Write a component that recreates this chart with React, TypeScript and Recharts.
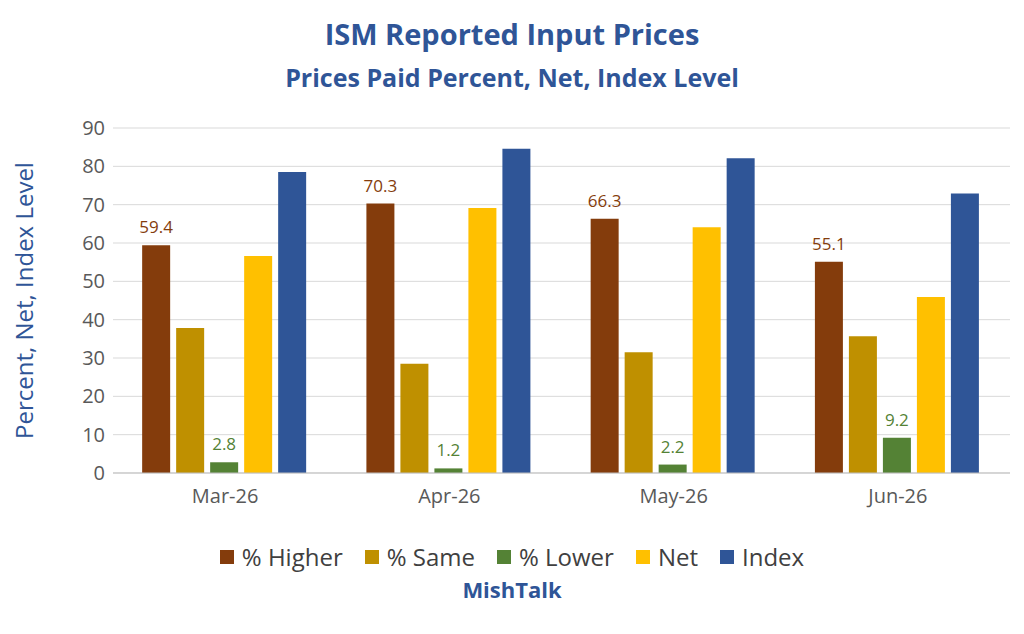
import React from 'react';
import { BarChart, Bar, XAxis, YAxis, CartesianGrid, LabelList } from 'recharts';

const months = ['Mar-26', 'Apr-26', 'May-26', 'Jun-26'];
const higher = [59.4, 70.3, 66.3, 55.1];
const same = [37.8, 28.5, 31.5, 35.7];
const lower = [2.8, 1.2, 2.2, 9.2];
const net = [56.6, 69.1, 64.1, 45.9];
const index = [78.5, 84.6, 82.1, 72.9];
const yTicks = [0, 10, 20, 30, 40, 50, 60, 70, 80, 90];

const series = [
  { key: 'higher', name: '% Higher', color: '#843C0C' },
  { key: 'same', name: '% Same', color: '#BF9000' },
  { key: 'lower', name: '% Lower', color: '#548235' },
  { key: 'net', name: 'Net', color: '#FFC000' },
  { key: 'index', name: 'Index', color: '#2F5597' },
];

const data = months.map((m, i) => ({
  month: m,
  higher: higher[i],
  same: same[i],
  lower: lower[i],
  net: net[i],
  index: index[i],
}));

const font = '"Open Sans", "Noto Sans", sans-serif';

export default function App() {
  return (
    <div style={{ position: 'absolute', left: 0, top: 0, width: 1024, height: 634, background: '#fff', fontFamily: font }}>
      <div style={{ position: 'absolute', top: 14, width: '100%', textAlign: 'center', color: '#2F5597', fontWeight: 'bold', fontSize: 29 }}>
        ISM Reported Input Prices
      </div>
      <div style={{ position: 'absolute', top: 60, width: '100%', textAlign: 'center', color: '#2F5597', fontWeight: 'bold', fontSize: 25 }}>
        Prices Paid Percent, Net, Index Level
      </div>
      <BarChart
        width={1024}
        height={634}
        data={data}
        margin={{ top: 128, right: 14, left: 0, bottom: 121 }}
        barCategoryGap="13%"
        barGap={6}
      >
        <CartesianGrid vertical={false} stroke="#d9d9d9" />
        <XAxis dataKey="month" height={40} tickLine={false} stroke="#bfbfbf" tick={{ fill: '#595959', fontSize: 20, fontFamily: font }} tickMargin={10} />
        <YAxis
          width={113}
          domain={[0, 90]}
          ticks={yTicks}
          axisLine={false}
          tickLine={false}
          tick={{ fill: '#595959', fontSize: 20, fontFamily: font }}
          label={{ value: 'Percent, Net, Index Level', angle: -90, position: 'insideLeft', offset: 24, style: { fill: '#2F5597', fontSize: 24, textAnchor: 'middle', fontFamily: font } }}
        />
        {series.map((s) => (
          <Bar key={s.key} dataKey={s.key} name={s.name} fill={s.color} isAnimationActive={false}>
            {(s.key === 'higher' || s.key === 'lower') && (
              <LabelList dataKey={s.key} position="top" offset={12} style={{ fill: s.color, fontSize: 17, fontFamily: font }} />
            )}
          </Bar>
        ))}
      </BarChart>
      <div style={{ position: 'absolute', top: 540, width: '100%', display: 'flex', justifyContent: 'center', gap: 22, fontSize: 24, color: '#404040' }}>
        {series.map((s) => (
          <div key={s.key} style={{ display: 'flex', alignItems: 'center', gap: 8 }}>
            <span style={{ width: 14, height: 14, background: s.color, display: 'inline-block' }} />
            {s.name}
          </div>
        ))}
      </div>
      <div style={{ position: 'absolute', top: 574, width: '100%', textAlign: 'center', color: '#2F5597', fontWeight: 'bold', fontSize: 22 }}>
        MishTalk
      </div>
    </div>
  );
}
